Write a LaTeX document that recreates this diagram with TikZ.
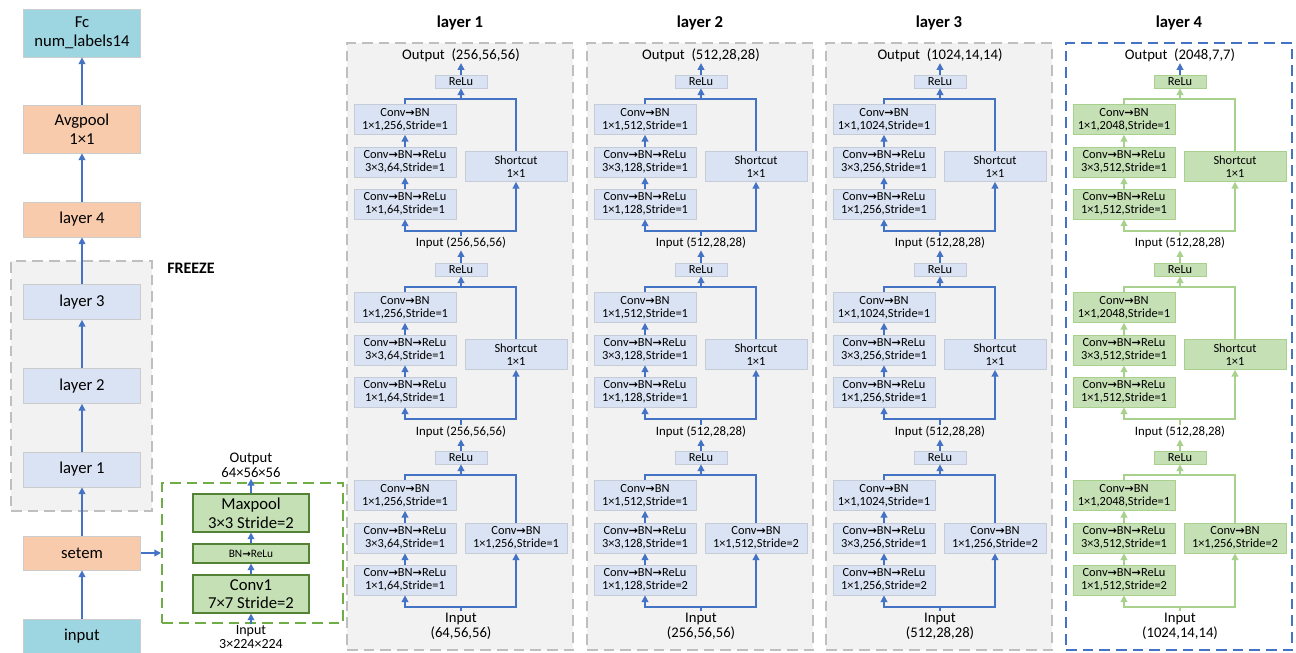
\documentclass[tikz,border=0pt]{standalone}
\usepackage{fontspec}
\setmainfont{Carlito}
\newfontfamily\arrowfont[Scale=0.9]{DejaVu Sans}
\usetikzlibrary{arrows.meta}
\definecolor{linkblue}{HTML}{4472C4}
\definecolor{unitfill}{HTML}{DAE3F3}
\definecolor{unitdraw}{HTML}{C5CCD8}
\definecolor{greenfill}{HTML}{C5E0B4}
\definecolor{greendraw}{HTML}{A9D18E}
\definecolor{stemdraw}{HTML}{548235}
\definecolor{stemdash}{HTML}{70AD47}
\definecolor{peach}{HTML}{F8CBAD}
\definecolor{aqua}{HTML}{9DD5E1}
\definecolor{panelfill}{HTML}{F2F2F2}
\definecolor{paneldraw}{HTML}{BFBFBF}
\newcommand{\nxt}{{\arrowfont\bfseries →}}
\newcommand{\unitfont}{\fontsize{9.3}{10}\selectfont}
\newcommand{\blockfont}{\fontsize{12.5}{14}\selectfont}
\newcommand{\iofont}{\fontsize{11}{11.2}\selectfont}
\newcommand{\smallio}{\fontsize{9.6}{10}\selectfont}
\tikzset{link/.style={draw=linkblue,line width=1.1pt}}
\tikzset{link 4/.style={draw=greendraw}}
\tikzset{outlink 1/.style={draw=linkblue}}
\tikzset{tip/.style={-{Triangle[length=5pt,width=5pt]}}}
\tikzset{unit/.style={draw=unitdraw,fill=unitfill,line width=0.5pt,inner sep=0pt,align=center,font=\unitfont,minimum width=76.5pt,minimum height=22.5pt}}
\tikzset{unit 4/.style={draw=greendraw,fill=greenfill}}
\tikzset{relu/.style={unit,minimum width=39pt,minimum height=9.75pt}}
\tikzset{panel/.style={draw=paneldraw,fill=panelfill,line width=2pt,dash pattern=on 8pt off 4.5pt,minimum width=169.5pt,minimum height=455.25pt}}
\tikzset{panel 4/.style={draw=linkblue,fill=white}}
\tikzset{block/.style={draw=black!20,fill=#1,line width=0.6pt,inner sep=0pt,align=center,font=\blockfont,minimum width=87.75pt,minimum height=26.25pt}}
\tikzset{stemunit/.style={draw=stemdraw,fill=greenfill,line width=0.8pt,inner sep=0pt,align=center,font=\blockfont,minimum width=87pt,minimum height=28.5pt}}

\begin{document}
\begin{tikzpicture}[x=0.75pt, y=-0.75pt]
\useasboundingbox (0,0) rectangle (1296,653);

% backbone
\node [panel, minimum width=105.75pt, minimum height=187.5pt] (freeze) at (81.5,386) {};
\node [font=\bfseries\fontsize{12}{14}\selectfont] (freeze-label) at (191,268) {FREEZE};
\node [block=aqua, minimum height=36pt] (fc) at (82,33) {Fc\\num\_labels14};
\node [block=peach, minimum height=36pt] (avgpool) at (82,129) {Avgpool\\1×1};
\node [block=peach] (layer4) at (82,219.5) {layer 4};
\node [block=unitfill] (layer3) at (82,302) {layer 3};
\node [block=unitfill] (layer2) at (82,386) {layer 2};
\node [block=unitfill] (layer1) at (82,469.5) {layer 1};
\node [block=peach, minimum height=25.5pt] (setem) at (82,553) {setem};
\node [block=aqua, minimum height=25pt] (input) at (82,636.5) {input};

\foreach \a/\b in {input/setem, setem/layer1, layer1/layer2, layer2/layer3, layer3/layer4, layer4/avgpool, avgpool/fc}
\draw [link, tip] (\a) -- (\b);

% stem
\node [draw=stemdash, line width=1.5pt, dash pattern=on 8pt off 4.5pt, minimum width=135.75pt, minimum height=105pt] (stem) at (252.5,553) {};
\node [stemunit] (maxpool) at (251,513) {Maxpool\\3×3 Stride=2};
\node [stemunit, minimum height=14.25pt, font=\fontsize{8.5}{9}\selectfont] (bnrelu) at (251,553.5) {BN\nxt ReLu};
\node [stemunit] (conv1) at (251,594) {Conv1\\7×7 Stride=2};
\node [align=center, font=\iofont, inner sep=1pt] (stem-out) at (251,465) {Output\\64×56×56};
\node [align=center, font=\fontsize{10.5}{10.5}\selectfont, inner sep=1pt] (stem-in) at (251,637.5) {Input\\3×224×224};

\draw [link, tip] (setem) -- (stem);
\foreach \a/\b in {stem-in/conv1, conv1/bnrelu, bnrelu/maxpool, maxpool/stem-out}
\draw [link, tip] (\a) -- (\b);

% layers
\foreach \i/\pl/\chout/\chmid/\sd/\chside/\outdim/\indim/\firstdim in {
  1/347/256/64/1/256/{(256,56,56)}/{(256,56,56)}/{(64,56,56)},
  2/587/512/128/2/512/{(512,28,28)}/{(512,28,28)}/{(256,56,56)},
  3/826/1024/256/2/256/{(1024,14,14)}/{(512,28,28)}/{(512,28,28)},
  4/1066/2048/512/2/256/{(2048,7,7)}/{(512,28,28)}/{(1024,14,14)}}
{
\node [panel, panel \i/.try] (panel-\i) at (\pl+113,346.5) {};
\node [font=\bfseries\fontsize{12.5}{14}\selectfont] (title-\i) at (\pl+113,23) {layer \i};

\node [font=\iofont, inner sep=1pt] (lab-\i-0) at (\pl+114,55) {Output~~\outdim};
\node [font=\smallio, inner sep=1pt] (lab-\i-1) at (\pl+114,243) {Input \indim};
\node [font=\smallio, inner sep=1pt] (lab-\i-2) at (\pl+114,432) {Input \indim};
\node [font=\iofont, align=center, inner sep=1pt] (lab-\i-3) at (\pl+114,626) {Input\\\firstdim};

\foreach \k/\r/\dy/\up in {1/75/91.5/0, 2/263/91.5/1, 3/451/87/2}
{
\node [relu, unit \i/.try] (relu-\i-\k) at (\pl+114,\r+6.5) {ReLu};
\node [unit, unit \i/.try] (cb-\i-\k) at (\pl+58,\r+44.5) {Conv\nxt BN\\1×1,\chout,Stride=1};
\node [unit, unit \i/.try] (cbra-\i-\k) at (\pl+58,\r+87) {Conv\nxt BN\nxt ReLu\\3×3,\chmid,Stride=1};
\node [unit, unit \i/.try] (cbrb-\i-\k) at (\pl+58,\r+129) {Conv\nxt BN\nxt ReLu\\1×1,\chmid,Stride=\ifnum\k=3 \sd\else 1\fi};
\node [unit, unit \i/.try] (side-\i-\k) at (\pl+169,\r+\dy) {\ifnum\k=3 Conv\nxt BN\\1×1,\chside,Stride=\sd\else Shortcut\\1×1\fi};
\coordinate (merge-\i-\k) at (\pl+114,\r+24);
\coordinate (split-\i-\k) at (\pl+114,\r+156);

\draw [link, link \i/.try] (lab-\i-\k) -- (split-\i-\k);
\draw [link, link \i/.try, tip] (split-\i-\k) -| (cbrb-\i-\k);
\draw [link, link \i/.try, tip] (split-\i-\k) -| (side-\i-\k);
\draw [link, link \i/.try, tip] (cbrb-\i-\k) -- (cbra-\i-\k);
\draw [link, link \i/.try, tip] (cbra-\i-\k) -- (cb-\i-\k);
\draw [link, link \i/.try] (cb-\i-\k) |- (merge-\i-\k) -| (side-\i-\k);
\draw [link, link \i/.try, tip] (merge-\i-\k) -- (relu-\i-\k);
\draw [link, link \i/.try, outlink \k/.try, tip] (relu-\i-\k) -- (lab-\i-\up);
}
}
\end{tikzpicture}
\end{document}
